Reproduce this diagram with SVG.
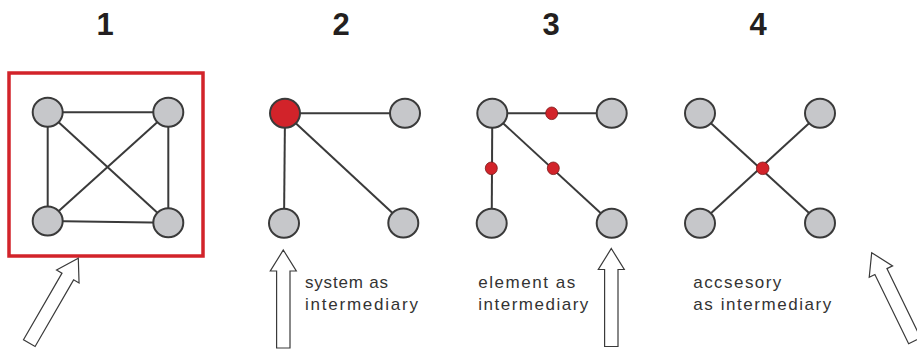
<svg xmlns="http://www.w3.org/2000/svg" width="917" height="351" viewBox="0 0 917 351">
<defs>
<style>
.bg{fill:#ffffff}
.num{font-family:"Liberation Sans",Arial,sans-serif;font-weight:bold;font-size:31px;fill:#231f20;text-anchor:middle}
.lbl{font-family:"Liberation Sans",Arial,sans-serif;font-size:17px;fill:#333333}
.node{fill:#c6c7ca;stroke:#3a3a3a;stroke-width:2}
.hub{fill:#d2232a;stroke:#3a3a3a;stroke-width:2}
.dot{fill:#d2232a;stroke:#7a1a1a;stroke-width:0.8}
.edge{stroke:#3a3a3a;stroke-width:2;fill:none}
.frame{fill:none;stroke:#d2232a;stroke-width:3.5}
.arrow{fill:#ffffff;stroke:#3a3a3a;stroke-width:1.2;stroke-linejoin:miter}
</style>
<polygon id="arr" points="0,0 13,21 6.7,21 6.7,98 -6.7,98 -6.7,21 -13,21"/>
</defs>
<rect class="bg" x="0" y="0" width="917" height="351"/>

<g id="titles">
<text class="num" x="105" y="35">1</text>
<text class="num" x="341" y="35">2</text>
<text class="num" x="551" y="35">3</text>
<text class="num" x="758" y="35">4</text>
</g>

<g id="connectors">
<line class="edge" x1="47.7" y1="112.3" x2="168.3" y2="112.3"/>
<line class="edge" x1="47.7" y1="112.3" x2="47.7" y2="221"/>
<line class="edge" x1="168.3" y1="112.3" x2="168.3" y2="222.7"/>
<line class="edge" x1="47.7" y1="221" x2="168.3" y2="222.7"/>
<line class="edge" x1="47.7" y1="112.3" x2="168.3" y2="222.7"/>
<line class="edge" x1="168.3" y1="112.3" x2="47.7" y2="221"/>
<line class="edge" x1="285" y1="113.3" x2="405" y2="113.3"/>
<line class="edge" x1="285" y1="113.3" x2="284" y2="223.3"/>
<line class="edge" x1="285" y1="113.3" x2="403.3" y2="223"/>
<line class="edge" x1="492.3" y1="113.3" x2="611.7" y2="113.3"/>
<line class="edge" x1="492.3" y1="113.3" x2="491.7" y2="223.3"/>
<line class="edge" x1="492.3" y1="113.3" x2="611.7" y2="223.3"/>
<line class="edge" x1="700" y1="113.3" x2="820" y2="223"/>
<line class="edge" x1="820" y1="113.3" x2="700" y2="223.3"/>
</g>

<g id="frame1">
<rect class="frame" x="9" y="73" width="194" height="183"/>
</g>

<g id="p1-nodes">
<ellipse id="p1-tl" class="node" cx="47.7" cy="112.3" rx="15" ry="14.5"/>
<ellipse id="p1-tr" class="node" cx="168.3" cy="112.3" rx="15" ry="14.5"/>
<ellipse id="p1-bl" class="node" cx="47.7" cy="221" rx="15" ry="14.5"/>
<ellipse id="p1-br" class="node" cx="168.3" cy="222.7" rx="15" ry="14.5"/>
</g>

<g id="p2-nodes">
<ellipse id="p2-hub" class="hub" cx="285" cy="113.3" rx="15" ry="14.5"/>
<ellipse id="p2-tr" class="node" cx="405" cy="113.3" rx="15" ry="14.5"/>
<ellipse id="p2-bl" class="node" cx="284" cy="223.3" rx="15" ry="14.5"/>
<ellipse id="p2-br" class="node" cx="403.3" cy="223" rx="15" ry="14.5"/>
</g>

<g id="p3-nodes">
<ellipse id="p3-tl" class="node" cx="492.3" cy="113.3" rx="15" ry="14.5"/>
<ellipse id="p3-tr" class="node" cx="611.7" cy="113.3" rx="15" ry="14.5"/>
<ellipse id="p3-bl" class="node" cx="491.7" cy="223.3" rx="15" ry="14.5"/>
<ellipse id="p3-br" class="node" cx="611.7" cy="223.3" rx="15" ry="14.5"/>
<ellipse id="p3-d1" class="dot" cx="551.7" cy="113.3" rx="6" ry="6.3"/>
<ellipse id="p3-d2" class="dot" cx="491.3" cy="168.3" rx="6" ry="6.3"/>
<ellipse id="p3-d3" class="dot" cx="553.3" cy="168.3" rx="6" ry="6.3"/>
</g>

<g id="p4-nodes">
<ellipse id="p4-tl" class="node" cx="700" cy="113.3" rx="15" ry="14.5"/>
<ellipse id="p4-tr" class="node" cx="820" cy="113.3" rx="15" ry="14.5"/>
<ellipse id="p4-bl" class="node" cx="700" cy="223.3" rx="15" ry="14.5"/>
<ellipse id="p4-br" class="node" cx="820" cy="223" rx="15" ry="14.5"/>
<ellipse id="p4-hub" class="dot" cx="762.7" cy="168.3" rx="6.3" ry="6.3"/>
</g>

<g id="arrows">
<use href="#arr" class="arrow" transform="translate(78.3,258.3) rotate(30)"/>
<use href="#arr" class="arrow" transform="translate(283.3,250)"/>
<use href="#arr" class="arrow" transform="translate(611.3,248.5)"/>
<use href="#arr" class="arrow" transform="translate(871.7,252.7) rotate(-26)"/>
</g>

<g id="labels">
<text class="lbl" x="305" y="288" textLength="83" lengthAdjust="spacing">system as</text>
<text class="lbl" x="305" y="310" textLength="113" lengthAdjust="spacing">intermediary</text>
<text class="lbl" x="478.3" y="288" textLength="97" lengthAdjust="spacing">element as</text>
<text class="lbl" x="478.3" y="310" textLength="110" lengthAdjust="spacing">intermediary</text>
<text class="lbl" x="693.3" y="288" textLength="88" lengthAdjust="spacing">accsesory</text>
<text class="lbl" x="693.3" y="310" textLength="138" lengthAdjust="spacing">as intermediary</text>
</g>
</svg>
